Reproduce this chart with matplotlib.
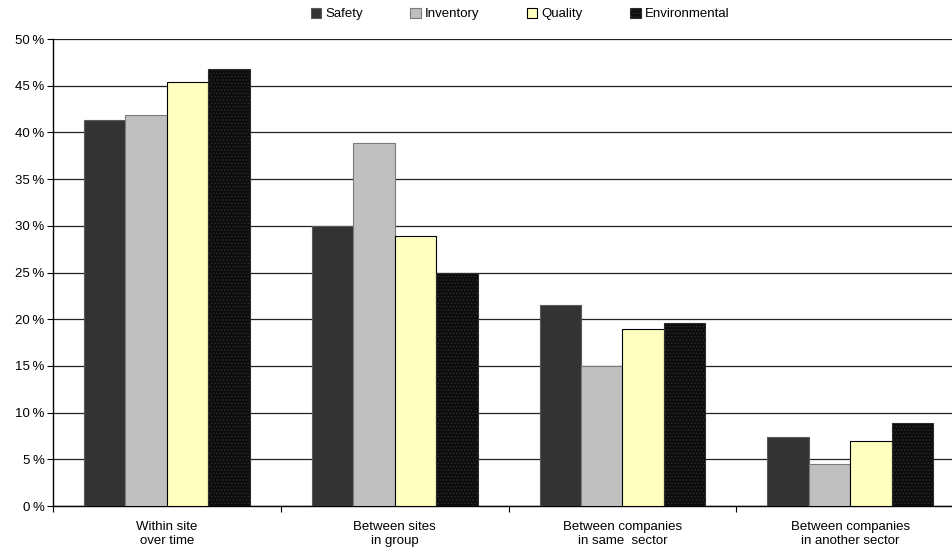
import numpy as np
import matplotlib.pyplot as plt
from matplotlib.ticker import FuncFormatter

plt.rcParams['font.family'] = ['Liberation Sans', 'DejaVu Sans']
plt.rcParams['hatch.linewidth'] = 0.6

categories = ["Within site\nover time", "Between sites\nin group",
              "Between companies\nin same  sector", "Between companies\nin another sector"]
series = ["Safety", "Inventory", "Quality", "Environmental"]
safety = [41.3, 30.0, 21.5, 7.4]
inventory = [41.9, 38.9, 15.0, 4.5]
quality = [45.4, 28.9, 18.9, 7.0]
environmental = [46.8, 24.9, 19.6, 8.9]
values = [safety, inventory, quality, environmental]

faces = ['#333333', '#c0c0c0', '#ffffc0', '#0c0c0c']
edges = ['#5a5a5a', '#7a7a7a', '#000000', '#2e2e2e']
hatches = [None, None, None, '.....']

fig = plt.figure(figsize=(9.52, 5.52), dpi=100)
ax = fig.add_axes([0.0557, 0.0833, 0.957, 0.846])

x = np.arange(len(categories))
w = 0.182
for i, (name, vals) in enumerate(zip(series, values)):
    ax.bar(x + (i - 1.5) * w, vals, width=w, color=faces[i], edgecolor=edges[i],
           linewidth=0.8, hatch=hatches[i], label=name, zorder=3)

ax.set_xlim(-0.5, 3.5)
ax.set_ylim(0, 50)
ax.set_yticks(np.arange(0, 51, 5))
ax.yaxis.set_major_formatter(FuncFormatter(lambda v, p: f"{v:.0f}\u2009%"))
ax.grid(axis='y', color='#222222', linewidth=0.9, zorder=0)
ax.set_axisbelow(True)

ax.set_xticks(x)
ax.set_xticklabels(categories, fontsize=9.5, linespacing=1.15)
ax.set_xticks(np.arange(-0.5, 3.6, 1.0), minor=True)
ax.tick_params(axis='x', which='major', length=0, pad=11)
ax.tick_params(axis='x', which='minor', length=4, width=0.8, direction='out')
ax.tick_params(axis='y', length=4, width=0.8, labelsize=9.5, pad=2)

for s in ['top', 'right']:
    ax.spines[s].set_visible(False)
ax.spines['left'].set_linewidth(1.0)
ax.spines['bottom'].set_linewidth(1.0)

fig.legend(loc='center', bbox_to_anchor=(520 / 952, 1 - 14 / 552), ncol=4, frameon=False,
           fontsize=9.5, handlelength=0.8, handleheight=0.8, handletextpad=0.3,
           columnspacing=3.6)

fig.savefig('out.png', dpi=100)
